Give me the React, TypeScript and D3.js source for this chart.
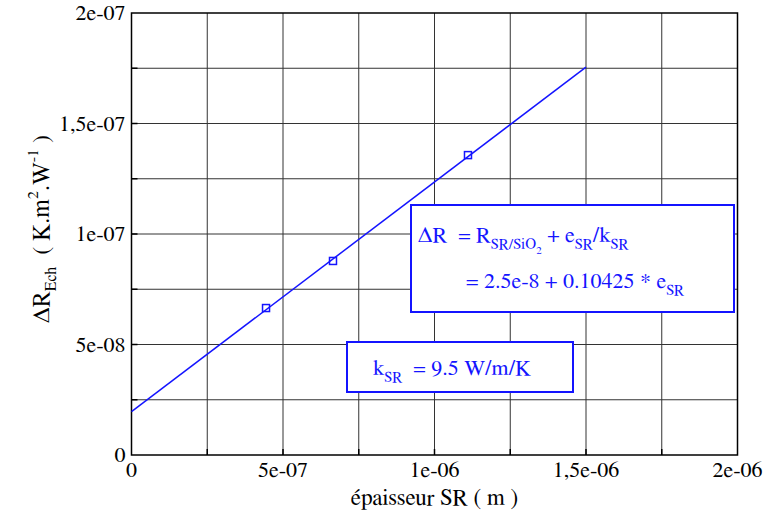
import React from "react";
import * as d3 from "d3";

const xTicks = [0, 5e-7, 1e-6, 1.5e-6, 2e-6];
const xTickLabels = ["0", "5e-07", "1e-06", "1,5e-06", "2e-06"];
const yTicks = [0, 5e-8, 1e-7, 1.5e-7, 2e-7];
const yTickLabels = ["0", "5e-08", "1e-07", "1,5e-07", "2e-07"];
const xGrid = [2.5e-7, 5e-7, 7.5e-7, 1e-6, 1.25e-6, 1.5e-6, 1.75e-6];
const yGrid = [2.5e-8, 5e-8, 7.5e-8, 1e-7, 1.25e-7, 1.5e-7, 1.75e-7];
const pointsX = [4.44e-7, 6.65e-7, 1.1105e-6];
const pointsY = [6.65e-8, 8.78e-8, 1.357e-7];
const fitX = [0, 1.5e-6];
const fitY = [1.96e-8, 1.755e-7];

const BLUE = "#1414ff";
const FONT = "FreeSerif";

export default function App() {
  const W = 766, H = 515;
  const L = 131.5, R = 737.5, T = 13, B = 455;
  const x = d3.scaleLinear().domain([0, 2e-6]).range([L, R]);
  const y = d3.scaleLinear().domain([0, 2e-7]).range([B, T]);
  const line = d3.line<number>().x((d) => x(fitX[d])).y((d) => y(fitY[d]));
  const fs = 22;
  const ts = { fontFamily: FONT };
  const ticksLen = 6;
  return (
    <svg width={W} height={H} style={{ position: "absolute", left: 0, top: 0 }}>
      <rect x={0} y={0} width={W} height={H} fill="#fff" />
      {xGrid.map((v, i) => (
        <line key={"xg" + i} x1={x(v)} x2={x(v)} y1={T} y2={B} stroke="#333" strokeWidth={1} />
      ))}
      {yGrid.map((v, i) => (
        <line key={"yg" + i} x1={L} x2={R} y1={y(v)} y2={y(v)} stroke="#333" strokeWidth={1} />
      ))}
      {xGrid.map((v, i) => (
        <line key={"xk" + i} x1={x(v)} x2={x(v)} y1={B} y2={B - ticksLen} stroke="#000" strokeWidth={1.5} />
      ))}
      {yGrid.map((v, i) => (
        <line key={"yk" + i} x1={L} x2={L + ticksLen} y1={y(v)} y2={y(v)} stroke="#000" strokeWidth={1.5} />
      ))}
      <rect x={L} y={T} width={R - L} height={B - T} fill="none" stroke="#000" strokeWidth={1.5} />
      {xTicks.map((v, i) => (
        <text key={"xt" + i} x={x(v)} y={B + 22} fontSize={fs} textAnchor="middle" fill="#000" style={ts}>
          {xTickLabels[i]}
        </text>
      ))}
      {yTicks.map((v, i) => (
        <text key={"yt" + i} x={L - 6} y={y(v) + 7} fontSize={fs} textAnchor="end" fill="#000" style={ts}>
          {yTickLabels[i]}
        </text>
      ))}
      <text x={434.5} y={505} fontSize={23} textAnchor="middle" fill="#000" style={ts}>
        épaisseur SR ( m )
      </text>
      <text transform="translate(49,229) rotate(-90)" fontSize={24} textAnchor="middle" fill="#000" style={ts}>
        <tspan>ΔR</tspan>
        <tspan fontSize={16} dy={7}>Ech</tspan>
        <tspan dy={-7}>{"\u00A0\u00A0( K.m"}</tspan>
        <tspan fontSize={16} dy={-11}>2</tspan>
        <tspan dy={11}>.W</tspan>
        <tspan fontSize={16} dy={-11}>-1</tspan>
        <tspan dy={11}>{"\u00A0)"}</tspan>
      </text>
      <path d={line([0, 1]) || ""} fill="none" stroke={BLUE} strokeWidth={1.5} />
      {pointsX.map((v, i) => (
        <rect key={"p" + i} x={x(v) - 3.5} y={y(pointsY[i]) - 3.5} width={7} height={7} fill="none" stroke={BLUE} strokeWidth={1.5} />
      ))}
      <rect x={411} y={205} width={323} height={107} fill="#fff" stroke={BLUE} strokeWidth={2} />
      <text x={418} y={242} fontSize={fs} fill={BLUE} style={ts}>
        <tspan>{"ΔR\u00A0\u00A0= R"}</tspan>
        <tspan fontSize={15} dy={7}>SR/SiO</tspan>
        <tspan fontSize={11} dy={5}>2</tspan>
        <tspan dy={-12}>{"\u00A0+ e"}</tspan>
        <tspan fontSize={15} dy={7}>SR</tspan>
        <tspan dy={-7}>/k</tspan>
        <tspan fontSize={15} dy={7}>SR</tspan>
      </text>
      <text x={466} y={288} fontSize={fs} fill={BLUE} style={ts}>
        <tspan>{"= 2.5e-8 + 0.10425 * e"}</tspan>
        <tspan fontSize={15} dy={7}>SR</tspan>
      </text>
      <rect x={347} y={342} width={226} height={50} fill="#fff" stroke={BLUE} strokeWidth={2} />
      <text x={373} y={375} fontSize={fs} fill={BLUE} style={ts}>
        <tspan>k</tspan>
        <tspan fontSize={15} dy={7}>SR</tspan>
        <tspan dy={-7}>{"\u00A0\u00A0= 9.5 W/m/K"}</tspan>
      </text>
    </svg>
  );
}
